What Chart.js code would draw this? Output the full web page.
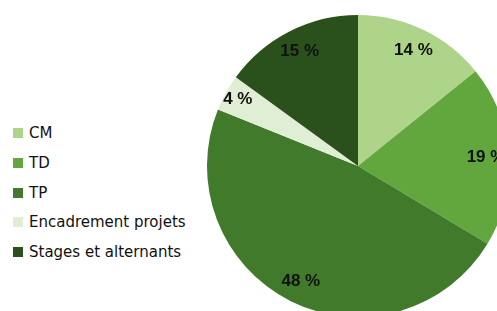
<!DOCTYPE html>
<html>
<head>
<meta charset="utf-8">
<script src="https://cdn.jsdelivr.net/npm/chart.js@4"></script>
<style>
  html, body { margin: 0; padding: 0; overflow: hidden; background: #fff; width: 497px; height: 311px; }
  #wrap { position: absolute; left: 207px; top: 15px; width: 302px; height: 302px; }
  #legend { position: absolute; left: 13px; top: 0; font-family: "DejaVu Sans", sans-serif; font-size: 15px; color: #111; }
  .item { position: absolute; left: 0; white-space: nowrap; height: 20px; line-height: 20px; }
  .box { display: inline-block; width: 10px; height: 10px; margin-right: 6px; vertical-align: 0px; }
</style>
</head>
<body>
<div id="legend"></div>
<div id="wrap"><canvas id="pie" width="302" height="302"></canvas></div>
<script>
const categories = ["CM", "TD", "TP", "Encadrement projets", "Stages et alternants"];
const shares = [14.2, 19.4, 47.5, 3.9, 15.0];
const colors = ["#aed48a", "#62a73d", "#417a2a", "#e0eed6", "#2a511b"];

// legend rows
let leg = document.getElementById("legend");
const rowY = [133, 163, 193, 222, 252];
for (let i = 0; i < categories.length; ++i) {
    let d = document.createElement("div");
    d.className = "item";
    d.style.top = (rowY[i] - 10) + "px";
    d.innerHTML = `<span class="box" style="background:${colors[i]}"></span>${categories[i]}`;
    leg.appendChild(d);
}

// percent labels inside the slices
const pctLabels = {
    id: "pctLabels",
    afterDatasetsDraw(chart) {
        const ctx = chart.ctx;
        const meta = chart.getDatasetMeta(0);
        ctx.save();
        ctx.font = "bold 17px 'Liberation Sans', Arial, sans-serif";
        ctx.fillStyle = "#111";
        ctx.textAlign = "center";
        ctx.textBaseline = "middle";
        meta.data.forEach((arc, i) => {
            const p = arc.getProps(["x", "y", "startAngle", "endAngle", "outerRadius"]);
            const mid = (p.startAngle + p.endAngle) / 2;
            const r = p.outerRadius * (shares[i] < 6 ? 0.91 : 0.85);
            ctx.fillText(Math.round(shares[i]) + " %", p.x + Math.cos(mid) * r, p.y + Math.sin(mid) * r);
        });
        ctx.restore();
    }
};

new Chart(document.getElementById("pie"), {
    type: "pie",
    data: {
        labels: categories,
        datasets: [{
            data: shares,
            backgroundColor: colors,
            borderWidth: 0
        }]
    },
    options: {
        responsive: false,
        animation: false,
        layout: { padding: 0 },
        plugins: {
            legend: { display: false },
            tooltip: { enabled: false }
        }
    },
    plugins: [pctLabels]
});
</script>
</body>
</html>
